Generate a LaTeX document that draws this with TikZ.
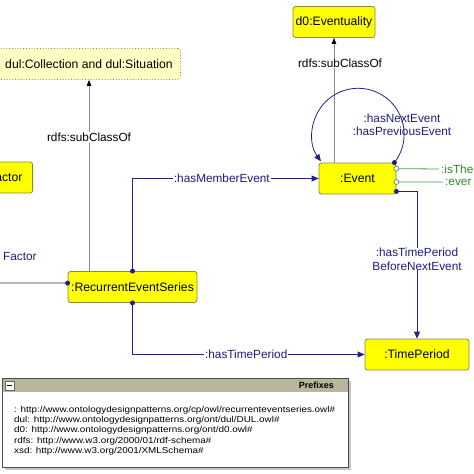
\documentclass[tikz,border=0pt]{standalone}
\usepackage{fontspec}
\setmainfont{Liberation Sans}
\newfontfamily\pfxfont[FakeStretch=1.15]{Liberation Sans}
\usetikzlibrary{arrows.meta,calc}
\definecolor{clsfill}{HTML}{FFFF00}
\definecolor{clsdraw}{HTML}{8A8A3A}
\definecolor{anonfill}{HTML}{FFFFC4}
\definecolor{objcol}{HTML}{24247E}
\definecolor{objtxt}{HTML}{1E1E78}
\definecolor{subcol}{HTML}{8A8A8A}
\definecolor{datacol}{HTML}{4C9C4C}
\definecolor{datatxt}{HTML}{2E8B2E}
\definecolor{hdrfill}{HTML}{B9B69E}
\tikzset{
  cls/.style={draw=clsdraw, fill=clsfill, line width=0.8pt, rounded corners=2.5pt,
    inner sep=0pt, minimum height=31pt, font=\fontsize{12.2}{14}\selectfont},
  anon/.style={cls, fill=anonfill, dotted},
  objline/.style={draw=objcol, line width=0.8pt},
  objarrow/.style={objline, -{Triangle[length=7pt,width=6pt]}},
  subarrow/.style={draw=subcol, line width=1pt, -{Triangle[length=6pt,width=4.5pt,fill=black,color=black]}},
  dataline/.style={draw=datacol, line width=0.8pt},
  lbl/.style={fill=white, inner sep=1pt, font=\fontsize{11.8}{13.5}\selectfont},
  objlbl/.style={lbl, text=objtxt},
  sublbl/.style={lbl, text=black},
  datalbl/.style={inner sep=0pt, text=datatxt, font=\fontsize{11.8}{13.5}\selectfont},
  dotend/.style={fill=objcol, circle, inner sep=0pt, minimum size=5pt},
  odot/.style={draw=datacol, fill=white, circle, line width=0.7pt, inner sep=0pt, minimum size=5pt},
  pfx/.style={font=\pfxfont\fontsize{8.6}{10}\selectfont, anchor=west, inner sep=0pt}
}
\begin{document}
\begin{tikzpicture}[x=1pt,y=-1pt]
\useasboundingbox (0,0) rectangle (474,474);
\clip (0,0) rectangle (474,474);
% nodes
\node[anon, minimum width=183pt] (coll) at (89,64) {dul:Collection and dul:Situation};
\node[cls, minimum width=60pt, anchor=east] (factor) at (33,177.5) {\hspace*{14pt}Factor\hspace*{9pt}};
\node[cls, minimum width=129pt] (res) at (132.5,287) {:RecurrentEventSeries};
\node[cls, minimum width=77pt] (event) at (357.5,178.5) {:Event};
\node[cls, minimum width=82pt] (evt) at (334,22) {d0:Eventuality};
\node[cls, minimum width=104pt] (tp) at (417,354.5) {:TimePeriod};
% subClassOf edges
\draw[subarrow] (res.north -| coll.south) -- node[sublbl, pos=0.70] {rdfs:subClassOf} (coll.south);
\draw[subarrow] (event.north -| evt.south) -- node[sublbl, pos=0.80, xshift=6pt] {rdfs:subClassOf} (evt.south);
% object property edges
\draw[objarrow] (res.north) |- node[objlbl, pos=0.74] {:hasMemberEvent} (event.west);
\node[dotend] at (res.north) {};
\draw[objarrow] (res.south) |- node[objlbl, pos=0.745] {:hasTimePeriod} (tp.west);
\node[dotend] at (res.south) {};
\coordinate (tpstart) at ($(event.south east)+(0,-3)$);
\draw[objarrow] (tpstart) -| node[objlbl, pos=0.73, align=center, inner sep=0pt] {:hasTimePeriod\\BeforeNextEvent} (tp.north);
\node[dotend] at (tpstart) {};
\coordinate (loopstart) at ($(event.north east)+(-2,0)$);
\draw[objarrow] (loopstart) arc[start angle=38, end angle=-216, radius=46];
\node[dotend] at (loopstart) {};
\node[objlbl, fill=none, align=center, inner sep=0pt] (looplbl) at (402,125) {:hasNextEvent\\:hasPreviousEvent};
% left incoming edge
\coordinate (lft) at (0,283);
\draw[objline] (lft) -- ($(res.north west)+(0,12)$);
\node[dotend] at ($(res.north west)+(0,12)$) {};
\node[objlbl, anchor=west, inner sep=0pt] (flbl) at (3,256) {Factor};
% data property edges
\node[datalbl, anchor=west] (d1) at (441,169) {:isThe};
\node[datalbl, anchor=west] (d2) at (445,182) {:ever};
\coordinate (c1) at ($(event.north east)!0.19!(event.south east)$);
\coordinate (c2) at ($(event.north east)!0.61!(event.south east)$);
\draw[dataline] (c1) -- ($(d1.west)+(-2,0)$);
\draw[dataline] (c2) -- ($(d2.west)+(-2,0)$);
\node[odot] at (c1) {};
\node[odot] at (c2) {};
% prefixes box
\fill[gray!45] (5,381) rectangle (351,470);
\node[draw=black!70, fill=white, line width=0.8pt, minimum width=346pt, minimum height=89pt, anchor=north west, inner sep=0pt] (pbox) at (2,378) {};
\fill[hdrfill] ($(pbox.north west)+(0.4,0.4)$) rectangle ($(pbox.north east)+(-0.4,14)$);
\draw[black!70, line width=0.8pt] (pbox.north west) rectangle (pbox.south east);
\node[draw=black!60, fill=white, minimum size=9pt, inner sep=0pt, anchor=north west] (btn) at (5,381) {};
\draw[black, line width=1pt] ($(btn.center)+(-2.5,0)$) -- ($(btn.center)+(2.5,0)$);
\node[font=\fontsize{9}{10}\selectfont\bfseries, anchor=east, inner sep=0pt] (ptitle) at (334,385) {Prefixes};
\node[pfx] (p1) at (14,410) {: http://www.ontologydesignpatterns.org/cp/owl/recurrenteventseries.owl\#};
\node[pfx] (p2) at (14,420.3) {dul: http://www.ontologydesignpatterns.org/ont/dul/DUL.owl\#};
\node[pfx] (p3) at (14,430.6) {d0: http://www.ontologydesignpatterns.org/ont/d0.owl\#};
\node[pfx] (p4) at (14,440.9) {rdfs: http://www.w3.org/2000/01/rdf-schema\#};
\node[pfx] (p5) at (14,451.2) {xsd: http://www.w3.org/2001/XMLSchema\#};
\end{tikzpicture}
\end{document}
